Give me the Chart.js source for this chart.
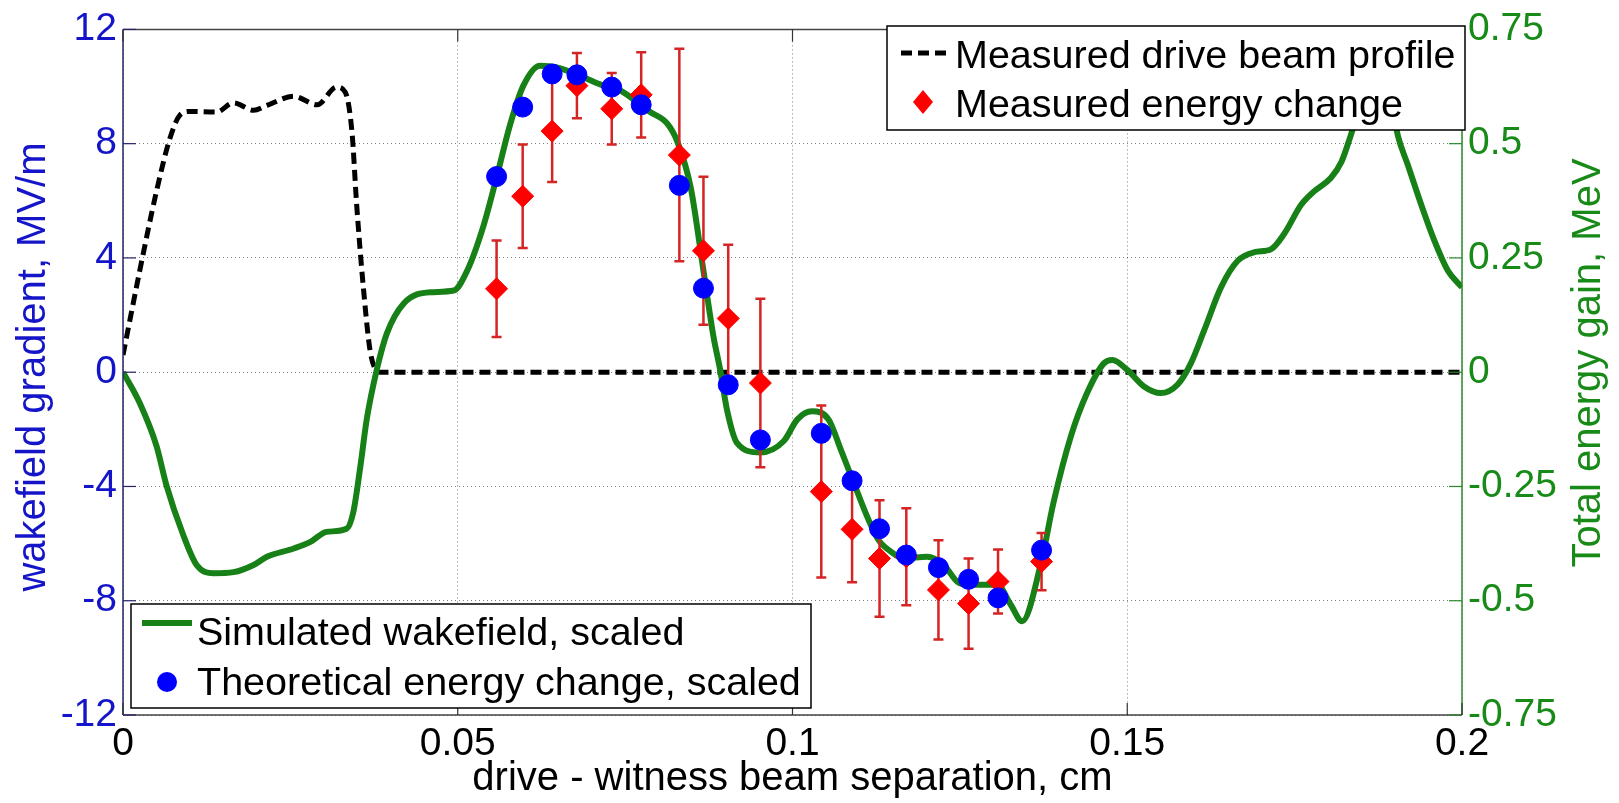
<!DOCTYPE html>
<html>
<head>
<meta charset="utf-8">
<script src="https://cdn.jsdelivr.net/npm/chart.js@4.4.1/dist/chart.umd.min.js"></script>
<style>
  html, body { margin: 0; padding: 0; background: #fff; }
  #wrap { width: 1619px; height: 803px; }
</style>
</head>
<body>
<div id="wrap"><canvas id="wake" width="1619" height="803"></canvas></div>
<script>
// wakefield vs drive-witness separation, two y scales (MV/m and MeV)

const FONT = "'Liberation Sans', Arial, sans-serif";

// measured drive beam profile (left axis units)
const beamX = [0, 0.0025, 0.005, 0.007, 0.0085, 0.01, 0.014, 0.0165, 0.0195, 0.0215, 0.0255, 0.029,
  0.0319, 0.0332, 0.0342, 0.0349, 0.0359, 0.0369, 0.0379, 0.0385, 0.2];
const beamY = [0.6, 3.55, 6.33, 8.18, 9.0, 9.13, 9.11, 9.43, 9.17, 9.34, 9.66, 9.36,
  9.98, 9.8, 8.41, 5.87, 2.97, 0.77, 0.05, 0, 0];

// simulated wakefield, scaled
const simX = [0, 0.0025, 0.005, 0.0065, 0.009, 0.011, 0.0135, 0.0165, 0.0195, 0.0215, 0.0255, 0.028,
  0.0304, 0.0334, 0.0344, 0.0354, 0.0364, 0.0379, 0.0394, 0.0419, 0.0459, 0.0494, 0.0514, 0.0539,
  0.0559, 0.0578, 0.0598, 0.0623, 0.0648, 0.0688, 0.0718, 0.0738, 0.0788, 0.0813, 0.0828, 0.0848,
  0.0867, 0.0882, 0.0892, 0.0902, 0.0917, 0.0952, 0.0987, 0.1007, 0.1029, 0.1054, 0.1072, 0.1087,
  0.1127, 0.1147, 0.1166, 0.1201, 0.1226, 0.1246, 0.1261, 0.1306, 0.1326, 0.1343, 0.1371, 0.139,
  0.1416, 0.144, 0.1465, 0.1478, 0.15, 0.1525, 0.155, 0.1575, 0.1595, 0.1615, 0.164, 0.1665,
  0.169, 0.1715, 0.1734, 0.176, 0.1779, 0.1804, 0.182, 0.1834, 0.1855, 0.1875, 0.1895, 0.1904,
  0.1919, 0.1939, 0.1959, 0.1979, 0.2];
const simY = [0, -1.08, -2.58, -3.97, -5.7, -6.75, -7.04, -7.0, -6.75, -6.46, -6.17, -5.94,
  -5.59, -5.48, -4.9, -3.39, -1.66, 0.08, 1.35, 2.4, 2.8, 2.86, 3.55, 5.17,
  6.91, 8.65, 10.03, 10.73, 10.67, 10.32, 10.03, 9.92, 9.1, 8.7, 8.07, 6.46,
  3.55, 1.24, 0.08, -1.3, -2.47, -2.81, -2.41, -1.66, -1.37, -1.66, -2.7, -3.6,
  -5.82, -6.28, -6.52, -6.46, -6.75, -7.33, -7.44, -7.44, -8.14, -8.72, -6.7, -4.55,
  -2.23, -0.73, 0.31, 0.43, 0.08, -0.5, -0.73, -0.44, 0.31, 1.47, 2.97, 3.9,
  4.2, 4.31, 4.83, 5.87, 6.33, 6.8, 7.37, 8.3, 9.8, 10.3, 9.4, 8.3,
  7.26, 5.87, 4.59, 3.55, 2.97];

// witness positions shared by measured and theoretical points
const ptX = [0.0558, 0.0597, 0.0641, 0.0678, 0.0730, 0.0774, 0.0831, 0.0867, 0.0904, 0.0952,
  0.1043, 0.1089, 0.1130, 0.1170, 0.1218, 0.1263, 0.1307, 0.1372];
const measY = [2.92, 6.16, 8.44, 10.03, 9.22, 9.71, 7.6, 4.25, 1.88, -0.38,
  -4.18, -5.5, -6.52, -6.46, -7.62, -8.1, -7.33, -6.63];
const measErr = [1.69, 1.81, 1.78, 1.14, 1.25, 1.49, 3.72, 2.59, 2.58, 2.95,
  3.01, 1.85, 2.04, 1.7, 1.74, 1.58, 1.12, 1.0];
const theoY = [6.85, 9.28, 10.44, 10.41, 9.98, 9.36, 6.54, 2.94, -0.44, -2.37,
  -2.14, -3.8, -5.48, -6.4, -6.84, -7.25, -7.9, -6.23];

const xTicks = [0, 0.05, 0.1, 0.15, 0.2];
const leftTicks = [-12, -8, -4, 0, 4, 8, 12];
const rightTicks = [-0.75, -0.5, -0.25, 0, 0.25, 0.5, 0.75];

const BLUE_TXT = '#1414c8', GREEN_TXT = '#178a17';
const pts = (xs, ys) => xs.map((x, i) => ({ x, y: ys[i] }));
const fmt = v => String(+(+v).toFixed(2));

const decor = {
  id: 'decor',
  beforeDatasetDraw(chart, args) {
    if (args.index !== 2) return;
    // error bars go under the red diamonds
    const xs = chart.scales.x, ys = chart.scales.y, ctx = chart.ctx;
    ctx.save();
    ctx.strokeStyle = '#d42424';
    ctx.lineWidth = 2.5;
    ptX.forEach((v, i) => {
      const px = xs.getPixelForValue(v);
      const top = ys.getPixelForValue(measY[i] + measErr[i]);
      const bot = ys.getPixelForValue(measY[i] - measErr[i]);
      ctx.beginPath();
      ctx.moveTo(px, top); ctx.lineTo(px, bot);
      ctx.moveTo(px - 5, top); ctx.lineTo(px + 5, top);
      ctx.moveTo(px - 5, bot); ctx.lineTo(px + 5, bot);
      ctx.stroke();
    });
    ctx.restore();
  },
  afterDraw(chart) {
    const ctx = chart.ctx, a = chart.chartArea;
    const xs = chart.scales.x, ys = chart.scales.y;
    ctx.save();
    // frame
    ctx.lineWidth = 1.5;
    ctx.strokeStyle = '#444';
    ctx.beginPath();
    ctx.moveTo(a.left, a.top); ctx.lineTo(a.right, a.top);
    ctx.moveTo(a.left, a.bottom); ctx.lineTo(a.right, a.bottom);
    ctx.stroke();
    ctx.strokeStyle = '#23236a';
    ctx.beginPath(); ctx.moveTo(a.left, a.top); ctx.lineTo(a.left, a.bottom); ctx.stroke();
    ctx.strokeStyle = '#2a8a2a';
    ctx.beginPath(); ctx.moveTo(a.right, a.top); ctx.lineTo(a.right, a.bottom); ctx.stroke();

    // inward tick marks
    ctx.lineWidth = 1.2;
    leftTicks.forEach(t => {
      const py = ys.getPixelForValue(t);
      ctx.strokeStyle = '#23236a';
      ctx.beginPath(); ctx.moveTo(a.left, py); ctx.lineTo(a.left + 13, py); ctx.stroke();
      ctx.strokeStyle = '#2a8a2a';
      ctx.beginPath(); ctx.moveTo(a.right, py); ctx.lineTo(a.right - 13, py); ctx.stroke();
    });
    ctx.strokeStyle = '#333';
    xTicks.forEach(t => {
      const px = xs.getPixelForValue(t);
      ctx.beginPath();
      ctx.moveTo(px, a.top); ctx.lineTo(px, a.top + 12);
      ctx.moveTo(px, a.bottom); ctx.lineTo(px, a.bottom - 12);
      ctx.stroke();
    });

    // axis titles
    ctx.textBaseline = 'alphabetic';
    ctx.textAlign = 'center';
    ctx.fillStyle = '#000';
    ctx.font = '40px ' + FONT;
    ctx.fillText('drive - witness beam separation, cm', (a.left + a.right) / 2, 790);
    ctx.save();
    ctx.translate(45, 367); ctx.rotate(-Math.PI / 2);
    ctx.fillStyle = BLUE_TXT;
    ctx.fillText('wakefield gradient, MV/m', 0, 0);
    ctx.restore();
    ctx.save();
    ctx.translate(1600, 363); ctx.rotate(-Math.PI / 2);
    ctx.fillStyle = GREEN_TXT;
    ctx.fillText('Total energy gain, MeV', 0, 0);
    ctx.restore();

    // legends (two boxes, like the original figure)
    const ds = chart.data.datasets;
    ctx.font = '39.5px ' + FONT;
    ctx.textAlign = 'left';
    const box = (x, y, w, h) => {
      ctx.fillStyle = '#fff';
      ctx.fillRect(x, y, w, h);
      ctx.strokeStyle = '#000';
      ctx.lineWidth = 1.5;
      ctx.strokeRect(x, y, w, h);
    };
    box(887, 26, 578, 104);
    ctx.strokeStyle = '#000';
    ctx.lineWidth = 5;
    ctx.setLineDash([11, 6]);
    ctx.beginPath(); ctx.moveTo(901, 53); ctx.lineTo(948, 53); ctx.stroke();
    ctx.setLineDash([]);
    ctx.fillStyle = '#000';
    ctx.fillText(ds[0].label, 955, 68);
    ctx.fillStyle = '#ff0000';
    ctx.beginPath();
    ctx.moveTo(923, 90); ctx.lineTo(933, 102); ctx.lineTo(923, 114); ctx.lineTo(913, 102);
    ctx.closePath(); ctx.fill();
    ctx.fillStyle = '#000';
    ctx.fillText(ds[2].label, 955, 117);

    box(131, 604, 680, 104);
    ctx.strokeStyle = '#178017';
    ctx.lineWidth = 6;
    ctx.beginPath(); ctx.moveTo(142, 623); ctx.lineTo(192, 623); ctx.stroke();
    ctx.fillStyle = '#000';
    ctx.fillText(ds[1].label, 197, 645);
    ctx.fillStyle = '#0000ff';
    ctx.beginPath(); ctx.arc(167, 682, 10, 0, Math.PI * 2); ctx.fill();
    ctx.fillStyle = '#000';
    ctx.fillText(ds[3].label, 197, 695);
    ctx.restore();
  }
};

new Chart(document.getElementById('wake'), {
  type: 'scatter',
  data: {
    datasets: [
      { label: 'Measured drive beam profile', data: pts(beamX, beamY), showLine: true,
        borderColor: '#000', borderWidth: 5, borderDash: [11, 6], pointRadius: 0,
        cubicInterpolationMode: 'monotone', yAxisID: 'y', order: 3 },
      { label: 'Simulated wakefield, scaled', data: pts(simX, simY), showLine: true,
        borderColor: '#178017', borderWidth: 6, pointRadius: 0,
        cubicInterpolationMode: 'monotone', yAxisID: 'y', order: 2 },
      { label: 'Measured energy change', data: pts(ptX, measY), showLine: false,
        pointStyle: 'rectRot', pointRadius: 11, backgroundColor: '#ff0000', borderColor: '#ff0000',
        borderWidth: 1, yAxisID: 'y', order: 1 },
      { label: 'Theoretical energy change, scaled', data: pts(ptX, theoY), showLine: false,
        pointStyle: 'circle', pointRadius: 10, backgroundColor: '#0000ff', borderColor: '#0000ff',
        borderWidth: 1, yAxisID: 'y', order: 0 }
    ]
  },
  options: {
    responsive: false,
    animation: false,
    devicePixelRatio: 1,
    layout: { padding: { top: 24, left: 0, right: 0, bottom: 0 } },
    plugins: { legend: { display: false }, tooltip: { enabled: false } },
    scales: {
      x: {
        type: 'linear', min: 0, max: 0.2,
        afterBuildTicks: s => { s.ticks = xTicks.map(v => ({ value: v })); },
        afterFit: s => { s.height = 88; },
        grid: { color: 'rgba(0,0,0,0.5)', lineWidth: 1, drawTicks: false },
        border: { display: false, dash: [1, 3] },
        ticks: { autoSkip: false, maxRotation: 0, padding: 6, color: '#000',
          font: { family: FONT, size: 39 }, callback: fmt }
      },
      y: {
        type: 'linear', position: 'left', min: -12, max: 12,
        afterBuildTicks: s => { s.ticks = leftTicks.map(v => ({ value: v })); },
        afterFit: s => { s.width = 123; },
        grid: { color: 'rgba(0,0,0,0.5)', lineWidth: 1, drawTicks: false },
        border: { display: false, dash: [1, 3] },
        ticks: { autoSkip: false, padding: 6, color: BLUE_TXT,
          font: { family: FONT, size: 39 }, callback: fmt }
      },
      y1: {
        type: 'linear', position: 'right', min: -0.75, max: 0.75,
        afterBuildTicks: s => { s.ticks = rightTicks.map(v => ({ value: v })); },
        afterFit: s => { s.width = 157; },
        grid: { display: false, drawTicks: false },
        border: { display: false },
        ticks: { autoSkip: false, padding: 6, color: GREEN_TXT,
          font: { family: FONT, size: 39 }, callback: fmt }
      }
    }
  },
  plugins: [decor]
});
</script>
</body>
</html>
